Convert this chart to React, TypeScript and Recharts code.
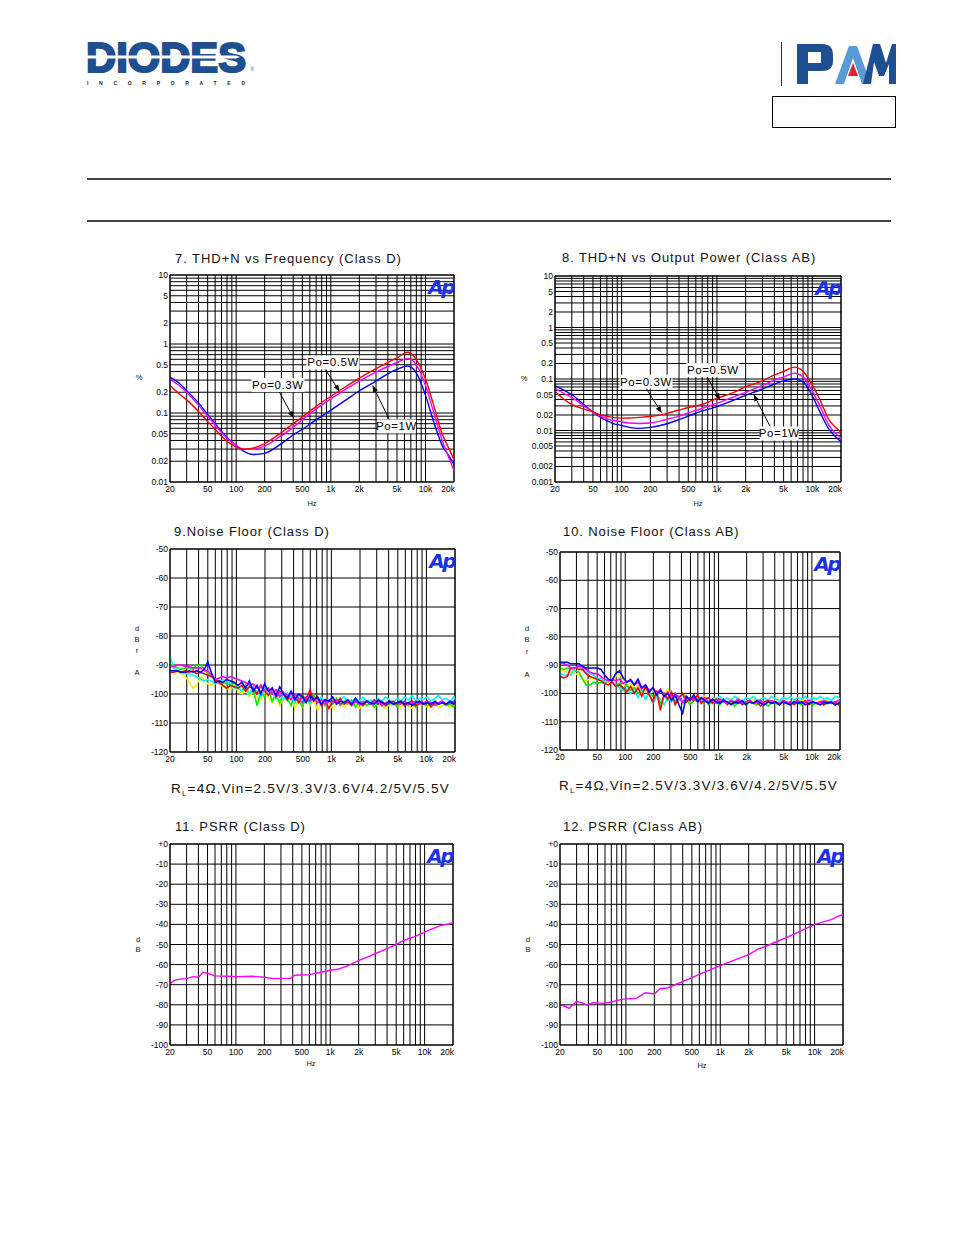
import React from 'react';
import { LineChart, Line, XAxis, YAxis, CartesianGrid, ReferenceLine, ReferenceDot } from 'recharts';

// ---- shared axes ----
const xGrid = [20, 30, 40, 50, 60, 70, 80, 90, 100, 200, 300, 400, 500, 600, 700, 800, 900, 1000, 2000, 3000, 4000, 5000, 6000, 7000, 8000, 9000, 10000, 20000];
const xLabels: Record<string, string> = { 20: '20', 50: '50', 100: '100', 200: '200', 500: '500', 1000: '1k', 2000: '2k', 5000: '5k', 10000: '10k', 20000: '20k' };

const thd7Grid = [0.01, 0.02, 0.03, 0.04, 0.05, 0.06, 0.07, 0.08, 0.09, 0.1, 0.2, 0.3, 0.4, 0.5, 0.6, 0.7, 0.8, 0.9, 1, 2, 3, 4, 5, 6, 7, 8, 9, 10];
const thd8Grid = [0.001, 0.002, 0.003, 0.004, 0.005, 0.006, 0.007, 0.008, 0.009, ...thd7Grid];
const thdLabels: Record<string, string> = { 10: '10', 5: '5', 2: '2', 1: '1', 0.5: '0.5', 0.2: '0.2', 0.1: '0.1', 0.05: '0.05', 0.02: '0.02', 0.01: '0.01', 0.005: '0.005', 0.002: '0.002', 0.001: '0.001' };
const noiseGrid = [-120, -110, -100, -90, -80, -70, -60, -50];
const psrrGrid = [-100, -90, -80, -70, -60, -50, -40, -30, -20, -10, 0];
const noiseMinor = Array.from({ length: 36 }, (_, i) => -120 + i * 2);
const psrrMinor = Array.from({ length: 51 }, (_, i) => -100 + i * 2);

// ---- 7 / 8 : THD+N (%) ----
const thdFreq = [20, 25, 30, 40, 50, 60, 70, 80, 100, 120, 150, 200, 300, 400, 500, 700, 1000, 1500, 2000, 3000, 4000, 5000, 6500, 8000, 10000, 12000, 15000, 18000, 20000];
const thd7Red = [0.25, 0.19, 0.155, 0.105, 0.075, 0.058, 0.046, 0.039, 0.032, 0.03, 0.031, 0.036, 0.052, 0.07, 0.088, 0.125, 0.175, 0.25, 0.32, 0.44, 0.54, 0.63, 0.76, 0.6, 0.31, 0.14, 0.05, 0.029, 0.021];
const thd7Magenta = [0.31, 0.25, 0.2, 0.13, 0.09, 0.067, 0.052, 0.043, 0.034, 0.03, 0.03, 0.033, 0.047, 0.062, 0.08, 0.115, 0.16, 0.23, 0.29, 0.39, 0.47, 0.54, 0.62, 0.5, 0.25, 0.11, 0.04, 0.021, 0.0145];
const thd7Blue = [0.33, 0.27, 0.21, 0.14, 0.095, 0.07, 0.054, 0.044, 0.034, 0.028, 0.025, 0.026, 0.036, 0.048, 0.058, 0.08, 0.11, 0.16, 0.21, 0.29, 0.37, 0.43, 0.48, 0.38, 0.18, 0.08, 0.034, 0.023, 0.018];

const thd8Red = [0.057, 0.04, 0.032, 0.026, 0.023, 0.02, 0.019, 0.018, 0.0174, 0.0175, 0.018, 0.0187, 0.0215, 0.025, 0.028, 0.032, 0.042, 0.055, 0.07, 0.092, 0.12, 0.14, 0.17, 0.14, 0.077, 0.04, 0.016, 0.011, 0.0092];
const thd8Magenta = [0.066, 0.052, 0.044, 0.03, 0.023, 0.019, 0.017, 0.0158, 0.0148, 0.014, 0.0137, 0.014, 0.0165, 0.019, 0.022, 0.027, 0.034, 0.045, 0.055, 0.075, 0.095, 0.11, 0.13, 0.11, 0.058, 0.03, 0.0125, 0.0085, 0.007];
const thd8Blue = [0.074, 0.06, 0.05, 0.032, 0.023, 0.018, 0.0155, 0.0138, 0.0125, 0.0115, 0.011, 0.0115, 0.0135, 0.0163, 0.019, 0.024, 0.029, 0.039, 0.048, 0.064, 0.08, 0.092, 0.1, 0.088, 0.047, 0.023, 0.0105, 0.0072, 0.006];

const notes7 = [
  { text: 'Po=0.5W', at: [1056, 0.54], from: [861, 0.44], to: [1242, 0.203] },
  { text: 'Po=0.3W', at: [276, 0.254], from: [285, 0.203], to: [405, 0.084] },
  { text: 'Po=1W', at: [4944, 0.064], from: [4204, 0.077], to: [2754, 0.254] },
];
const notes8 = [
  { text: 'Po=0.5W', at: [905, 0.149], from: [783, 0.111], to: [1081, 0.039] },
  { text: 'Po=0.3W', at: [180, 0.089], from: [176, 0.071], to: [264, 0.0217] },
  { text: 'Po=1W', at: [4500, 0.00875], from: [3620, 0.0119], to: [2418, 0.0505] },
];

// ---- 9 / 10 : noise floor (dBrA) ----
const noiseFreq = [20, 22, 24, 26, 29, 32, 35, 38, 42, 46, 50, 55, 60, 66, 72, 79, 87, 95, 104, 114, 125, 137, 150, 165, 181, 198, 217, 238, 261, 286, 313, 343, 376, 412, 452, 495, 543, 595, 652, 714, 783, 858, 940, 1030, 1130, 1240, 1360, 1490, 1630, 1790, 1960, 2150, 2350, 2580, 2830, 3100, 3400, 3720, 4080, 4470, 4900, 5370, 5890, 6450, 7070, 7750, 8490, 9310, 10200, 11200, 12300, 13400, 14700, 16100, 17700, 19400, 20000];

const n9Red = [-92.5, -92.5, -92, -92.5, -92, -92.5, -92, -93, -92.5, -93, -93.5, -94, -95, -96, -97, -98, -97, -97.5, -98, -97, -99, -97.5, -98, -100, -97, -99, -100.5, -98, -101, -99, -100, -102, -99.5, -101, -103, -100.5, -102, -98.5, -102.5, -101, -104, -102, -105, -102.5, -103, -101.5, -103.5, -102.5, -104, -102.5, -103, -104, -102.5, -103.5, -102, -103.5, -102.5, -104, -103, -102.5, -103.5, -102.5, -104, -103, -102.5, -104, -103, -103.5, -102.5, -104.5, -103, -103.5, -102.5, -103.5, -103, -103.5, -103];
const n9Green = [-90, -90.5, -91, -91.5, -91, -91, -91.5, -90, -90, -91.5, -93, -94, -95, -96.5, -96, -96.5, -97, -96, -98, -99, -97, -100, -98.5, -104, -99, -101, -98, -102.5, -100, -103, -99.5, -101.5, -104, -100, -102, -104.5, -101, -103, -100.5, -102.5, -101.5, -104, -102, -103.5, -101.5, -104, -102.5, -103.5, -102, -104.5, -103, -102.5, -104, -103, -104.5, -103, -102.5, -104, -103.5, -103, -104.5, -103, -103.5, -104, -103, -104.5, -103, -103.5, -104, -103, -104, -103.5, -103, -104, -103.5, -104.5, -103.5];
const n9Yellow = [-92, -92, -92.5, -93, -94, -96, -98, -97, -94, -95, -96.5, -97, -95.5, -96, -97.5, -98, -98.5, -97, -99, -100, -98, -101, -99, -101.5, -102, -99.5, -101, -103, -100, -104, -101, -102.5, -100.5, -105, -102, -103.5, -101.5, -104, -102, -105.5, -102.5, -104, -103, -105, -103.5, -102.5, -104.5, -103, -104, -103.5, -105, -103.5, -104, -103, -104.5, -103.5, -104, -105, -103.5, -104, -103.5, -104.5, -103.5, -104, -105, -103.5, -104, -103.5, -104.5, -104, -103.5, -104.5, -104, -103.5, -104.5, -104, -103.5];
const n9Cyan = [-87, -91, -92, -92.5, -93, -93, -93.5, -94, -95, -95.5, -95, -95.5, -96.5, -96, -95, -95.5, -96.5, -98, -97.5, -99, -98, -100, -97.5, -99.5, -101, -98.5, -100, -99, -101.5, -100, -102, -99.5, -101, -103, -100.5, -102, -101, -103.5, -101.5, -102.5, -101, -103, -102, -101.5, -103, -102, -101, -102.5, -103, -101.5, -102.5, -101, -102.5, -102, -103, -101.5, -102.5, -101, -102, -103, -101.5, -102.5, -101, -102, -100.5, -102.5, -101.5, -102, -101, -102.5, -101.5, -100.5, -102, -101.5, -102.5, -101, -102];
const n9Blue = [-92, -92, -92, -92.5, -92.5, -92, -92.5, -92, -92.5, -91.5, -89, -93, -96, -95.5, -96, -95, -95.5, -96, -97, -96, -98, -95.5, -99, -97, -100, -96.5, -99, -98, -100.5, -97.5, -100, -101.5, -99, -102, -100, -101, -103, -100.5, -102, -101, -103.5, -102, -102.5, -101, -103.5, -102.5, -103, -102, -103.5, -101.5, -103, -103.5, -102.5, -103, -103.5, -102, -103, -103.5, -102.5, -103.5, -103, -102.5, -103.5, -103, -104, -103, -102.5, -103.5, -103, -103.5, -102.5, -103.5, -103, -103.5, -102.5, -103.5, -102];
const n9Magenta = [-90.5, -90.5, -90, -90, -90.5, -90.5, -91, -91, -91, -92, -92, -93.5, -95, -94.5, -94, -94.5, -94, -94.5, -95, -95.5, -96, -97, -96.5, -98, -97.5, -99, -98, -100, -98.5, -101, -99.5, -100.5, -102, -100, -101.5, -103, -101, -102.5, -101.5, -103, -102, -103.5, -102.5, -103, -102, -103.5, -103, -102.5, -103.5, -102.5, -103.5, -103, -102.5, -103.5, -103, -102.5, -104, -103, -102.5, -103.5, -103, -103.5, -102.5, -103.5, -103, -102.5, -103.5, -103, -102.5, -103, -103.5, -103, -102.5, -103.5, -103, -102.5, -103];

const n10Red = [-94, -94.5, -94, -91, -91, -91.5, -91.5, -93, -94, -94.5, -95, -95.5, -96.5, -97, -96, -97.5, -97, -98, -99.5, -97.5, -100, -98, -101, -97.5, -100.5, -103, -99, -106, -100, -102, -99.5, -104, -101.5, -100, -103, -101.5, -102.5, -100.5, -103.5, -102, -101.5, -103.5, -102, -103, -102, -104, -102.5, -103.5, -102.5, -104, -103, -102.5, -103.5, -103, -104.5, -103, -102.5, -103.5, -103, -104, -102.5, -103.5, -103, -104, -103, -103.5, -102.5, -104, -103, -103.5, -103, -104, -103, -103.5, -103, -104, -103.5];
const n10Green = [-91, -91.5, -91, -91, -92, -92.5, -95, -97, -97, -96, -96.5, -96, -96.5, -95.5, -96, -97, -96.5, -98.5, -97, -99, -98, -100, -99, -102, -99.5, -101, -100.5, -103.5, -101, -102.5, -100.5, -103, -101, -103.5, -102, -104, -102.5, -101.5, -103.5, -102.5, -104, -102.5, -103, -104, -102.5, -103.5, -103, -104.5, -103, -103.5, -104, -103, -103.5, -104, -103, -103.5, -104.5, -103, -103.5, -104, -103, -103.5, -104, -103, -103.5, -104, -103, -103.5, -104, -103.5, -103, -104, -103.5, -103, -104, -103.5, -103];
const n10Yellow = [-92, -92, -92.5, -92.5, -93, -93.5, -95, -95.5, -95, -94.5, -95, -95.5, -95, -96, -95.5, -94, -93, -95, -97, -96.5, -98.5, -97, -100, -98, -99.5, -98.5, -101, -99, -100, -98.5, -101.5, -100, -102.5, -100.5, -101, -103, -101.5, -100.5, -102.5, -101, -103, -102, -101.5, -103, -102.5, -103.5, -102, -103, -101.5, -103.5, -102.5, -103, -102, -103.5, -102.5, -103, -102, -103.5, -102.5, -103, -102, -103, -103.5, -102.5, -103, -102, -103.5, -102.5, -103, -103.5, -102.5, -103, -102.5, -103.5, -103, -102.5, -103];
const n10Cyan = [-93, -93.5, -93.5, -93.5, -91, -90.5, -91, -92.5, -93, -93.5, -95, -94.5, -96, -95.5, -96, -97, -98, -99, -98.5, -100, -99, -101.5, -99, -102, -100, -103.5, -101, -102, -104, -101.5, -103, -101, -102.5, -100.5, -103, -101.5, -102, -101, -103, -102, -101.5, -103, -102, -101, -102.5, -101.5, -102.5, -101, -102, -103, -101.5, -102, -101, -102.5, -102, -101.5, -102.5, -101, -102, -102.5, -101.5, -102, -101, -102.5, -101.5, -102, -101, -102.5, -101.5, -102, -101, -102, -101.5, -102.5, -101, -101.5, -102];
const n10Blue = [-89, -89, -89, -89.5, -89.5, -89.5, -90.5, -91, -91, -91, -91, -91.5, -93.5, -95, -95.5, -93, -92, -94.5, -96, -95, -97, -95, -98, -97, -99.5, -98, -100.5, -99, -101, -100, -102.5, -100.5, -104, -107, -101, -102.5, -100.5, -103, -101.5, -102.5, -103.5, -102, -103, -103.5, -102.5, -103, -104, -103, -103.5, -102.5, -104, -103, -103.5, -102.5, -103.5, -104, -103, -103.5, -103, -104, -103, -103.5, -104, -103, -103.5, -103, -104, -103.5, -103, -103.5, -104, -103, -103.5, -103, -104, -103.5, -103];
const n10Magenta = [-89, -89.5, -90, -91, -91, -90.5, -90.5, -91.5, -92.5, -93, -93, -94, -95, -95.5, -95, -95.5, -95, -96.5, -96, -95.5, -97, -96, -98.5, -97, -99, -98, -100, -98.5, -101, -99.5, -102, -100, -101.5, -103, -101, -102.5, -101.5, -103, -102, -101.5, -103, -102.5, -103.5, -102, -103, -103.5, -102.5, -103, -102, -103.5, -103, -102.5, -103.5, -103, -102.5, -103.5, -103, -102.5, -103, -103.5, -102.5, -103, -103.5, -103, -102.5, -103.5, -103, -102.5, -103, -103.5, -103, -102.5, -103, -103.5, -103, -102.5, -103];

// ---- 11 / 12 : PSRR (dB) ----
const psrr11Freq = [20, 22, 25, 30, 35, 40, 45, 50, 60, 80, 100, 150, 200, 250, 380, 420, 600, 800, 1000, 1200, 1500, 2000, 2500, 3000, 4000, 5000, 6000, 8000, 10000, 12000, 15000, 18000, 20000];
const psrr11Db = [-69.5, -68, -67.2, -67, -66, -66.3, -63.8, -64.3, -65.6, -65.8, -66, -65.8, -66.3, -67, -66.8, -65.3, -65, -63.8, -62.8, -62.3, -60.8, -58, -56.2, -54.5, -52, -50, -48, -46, -43.8, -42.2, -40.5, -39.8, -39.2];
const psrr12Freq = [20, 22, 25, 30, 35, 38, 45, 60, 70, 90, 130, 160, 200, 230, 280, 500, 700, 1000, 1500, 2000, 2500, 3000, 4000, 5000, 7000, 10000, 15000, 18000, 20000];
const psrr12Db = [-80.3, -80.5, -81.8, -78.3, -79.2, -80, -79, -79.3, -78.6, -77.3, -76.7, -74, -74.6, -72, -71.5, -66.5, -63.5, -60.5, -57.3, -55, -52.3, -51, -48.5, -46.6, -43.5, -40, -37.6, -35.8, -35.2];

const thd7Rows = thdFreq.map((f, i) => ({ f, red: thd7Red[i], magenta: thd7Magenta[i], blue: thd7Blue[i] }));
const thd8Rows = thdFreq.map((f, i) => ({ f, red: thd8Red[i], magenta: thd8Magenta[i], blue: thd8Blue[i] }));
const n9Rows = noiseFreq.map((f, i) => ({ f, yellow: n9Yellow[i], green: n9Green[i], cyan: n9Cyan[i], red: n9Red[i], magenta: n9Magenta[i], blue: n9Blue[i] }));
const n10Rows = noiseFreq.map((f, i) => ({ f, yellow: n10Yellow[i], green: n10Green[i], cyan: n10Cyan[i], red: n10Red[i], magenta: n10Magenta[i], blue: n10Blue[i] }));
const p11Rows = psrr11Freq.map((f, i) => ({ f, v: psrr11Db[i] }));
const p12Rows = psrr12Freq.map((f, i) => ({ f, v: psrr12Db[i] }));

const thdSeries = [
  { key: 'blue', color: '#0000ff' },
  { key: 'magenta', color: '#ff00ff' },
  { key: 'red', color: '#ff0000' },
];
const noiseSeries = [
  { key: 'yellow', color: '#f2f200' },
  { key: 'green', color: '#00ee00' },
  { key: 'cyan', color: '#00ffff' },
  { key: 'red', color: '#ff0000' },
  { key: 'magenta', color: '#ff00ff' },
  { key: 'blue', color: '#0000ff' },
];
const psrrSeries = [{ key: 'v', color: '#ff00ff' }];

const FONT = '"Liberation Sans", Arial, sans-serif';
const TICK_FONT = '"Liberation Sans Narrow", "Liberation Sans", Arial, sans-serif';
const PAD_L = 40, PAD_T = 8, PAD_R = 10, PAD_B = 30;

function xTick(p: any) {
  const v = p.payload.value;
  const s = xLabels[v];
  if (!s) return <g />;
  const last = v === 20000;
  return (
    <text x={last ? p.x + 1 : p.x} y={p.y} dy={8} textAnchor={last ? 'end' : 'middle'} fontSize={8.5} fontFamily={TICK_FONT} fill="#000">
      {s}
    </text>
  );
}

const yTick = (label: (v: number) => string | undefined) => (p: any) => {
  const s = label(p.payload.value);
  if (!s) return <g />;
  return (
    <text x={p.x} y={p.y} dy={3} textAnchor="end" fontSize={8.5} fontFamily={TICK_FONT} fill="#000">
      {s}
    </text>
  );
};

const arrowShape = (p: any) => {
  const { x1, y1, x2, y2 } = p;
  const a = Math.atan2(y2 - y1, x2 - x1);
  const L = 7, W = 2.6;
  const bx = x2 - L * Math.cos(a), by = y2 - L * Math.sin(a);
  const pts = `${x2},${y2} ${bx - W * Math.sin(a)},${by + W * Math.cos(a)} ${bx + W * Math.sin(a)},${by - W * Math.cos(a)}`;
  return (
    <g>
      <line x1={x1} y1={y1} x2={bx} y2={by} stroke="#000" strokeWidth={1} />
      <polygon points={pts} fill="#000" />
    </g>
  );
};

const noteBox = (text: string) => (p: any) => {
  const w = text.length * 7 + 4;
  return (
    <g>
      <rect x={p.cx - w / 2} y={p.cy - 7} width={w} height={14} fill="#fff" />
      <text x={p.cx} y={p.cy} dy={4} textAnchor="middle" fontSize={11.5} fontFamily={FONT} letterSpacing={0.6} fill="#000">
        {text}
      </text>
    </g>
  );
};

type Plot = { l: number; t: number; r: number; b: number };

function ApChart(props: {
  plot: Plot;
  data: any[];
  series: { key: string; color: string }[];
  yLog?: boolean;
  yDomain: [number, number];
  yGrid: number[];
  yText: (v: number) => string | undefined;
  yMinor?: number[];
  curve?: 'linear' | 'monotone';
  lineWidth?: number;
  notes?: { text: string; at: number[]; from: number[]; to: number[] }[];
}) {
  const { plot, data, series, yLog, yDomain, yGrid, yText, yMinor, curve = 'linear', lineWidth = 1.2, notes = [] } = props;
  const w = plot.r - plot.l + PAD_L + PAD_R;
  const h = plot.b - plot.t + PAD_T + PAD_B;
  return (
    <div style={{ position: 'absolute', left: plot.l - PAD_L, top: plot.t - PAD_T, width: w, height: h }}>
      <LineChart width={w} height={h} data={data} margin={{ top: PAD_T, right: PAD_R, bottom: 0, left: 0 }}>
        <CartesianGrid stroke="#000" strokeWidth={1} />
        <XAxis dataKey="f" type="number" scale="log" domain={[20, 20000]} ticks={xGrid} interval={0} allowDataOverflow
          height={PAD_B} tickSize={0} tickMargin={2} tickLine={false} axisLine={{ stroke: '#000' }} tick={xTick} />
        <YAxis type="number" scale={yLog ? 'log' : 'linear'} domain={yDomain} ticks={yGrid} interval={0} allowDataOverflow
          width={PAD_L} tickSize={0} tickMargin={2} tickLine={false} axisLine={{ stroke: '#000' }} tick={yTick(yText)} />
        {yMinor && (
          <YAxis yAxisId="minor" type="number" domain={yDomain} ticks={yMinor} interval={0} allowDataOverflow mirror
            width={1} tickSize={3} tick={false} axisLine={false} tickLine={{ stroke: '#000' }} />
        )}
        <ReferenceLine x={20000} stroke="#000" />
        <ReferenceLine y={yDomain[1]} stroke="#000" />
        {series.map((s) => (
          <Line key={s.key} dataKey={s.key} stroke={s.color} strokeWidth={lineWidth} dot={false} type={curve} isAnimationActive={false} />
        ))}
        {notes.map((n, i) => (
          <ReferenceLine key={'a' + i} segment={[{ x: n.from[0], y: n.from[1] }, { x: n.to[0], y: n.to[1] }]} shape={arrowShape} ifOverflow="visible" />
        ))}
        {notes.map((n, i) => (
          <ReferenceDot key={'t' + i} x={n.at[0]} y={n.at[1]} r={1} shape={noteBox(n.text)} ifOverflow="visible" />
        ))}
      </LineChart>
      <div style={{ position: 'absolute', right: PAD_R + 1, top: PAD_T + 2, color: '#1a32e6', fontFamily: '"DejaVu Sans", sans-serif', fontWeight: 'bold', fontStyle: 'italic', fontSize: 20, letterSpacing: -2.5, lineHeight: 1 }}>
        Ap
      </div>
    </div>
  );
}

function Txt({ x, y, size = 13, spacing = 0, center = false, children }: any) {
  return (
    <div style={{ position: 'absolute', left: x, top: y, fontFamily: FONT, fontSize: size, letterSpacing: spacing, lineHeight: 1, whiteSpace: 'nowrap', color: '#111', transform: `translate(${center ? '-50%' : '0'}, -50%)` }}>
      {children}
    </div>
  );
}

function Header() {
  return (
    <svg style={{ position: 'absolute', left: 0, top: 0 }} width={954} height={230}>
      <text x={86} y={71.5} fontFamily={FONT} fontWeight="bold" fontSize={42} fill="#1d4f91" stroke="#1d4f91" strokeWidth={2.2}
        textLength={160} lengthAdjust="spacingAndGlyphs">DIODES</text>
      <path d="M84,55.5 H236 L240,57 L236,58.5 H84 Z" fill="#fff" />
      <text x={87} y={85} fontFamily={FONT} fontWeight="bold" fontSize={5} fill="#222" textLength={158} lengthAdjust="spacing">INCORPORATED</text>
      <text x={250.5} y={71} fontFamily={FONT} fontSize={5} fill="#1d4f91">®</text>
      <line x1={781.5} y1={42} x2={781.5} y2={86} stroke="#333" strokeWidth={1} />
      <path d="M797,44 H822 Q833,44 833,55 V61 Q833,71 822,71 H808 V84 H797 Z M808,52 H821 V63 H808 Z" fill="#1d4f91" fillRule="evenodd" />
      <path d="M835,84 L849,46 H857 L871,84 H862 L853,58 L844,84 Z" fill="#5b9bd5" />
      <path d="M848,76 L853,63 L858,76 Z" fill="#e0202a" />
      <path d="M863,84 L873,44 H880 L886,63 L892,44 H896 V84 H889 V64 L884,76 H879 L874,62 L871,84 Z" fill="#1d4f91" />
      <rect x={772.5} y={96.5} width={123} height={31} fill="none" stroke="#000" />
      <line x1={87} y1={179} x2={891} y2={179} stroke="#000" strokeWidth={1.5} />
      <line x1={87} y1={221} x2={891} y2={221} stroke="#000" strokeWidth={1.5} />
    </svg>
  );
}

const axisNames = [
  { t: '%', x: 139, y: 378 }, { t: '%', x: 524, y: 379 },
  { t: 'Hz', x: 312, y: 504 }, { t: 'Hz', x: 698, y: 504 },
  { t: 'd', x: 137, y: 629 }, { t: 'B', x: 137, y: 640 }, { t: 'r', x: 137, y: 651 }, { t: 'A', x: 137, y: 673 },
  { t: 'd', x: 527, y: 629 }, { t: 'B', x: 527, y: 640 }, { t: 'r', x: 527, y: 652 }, { t: 'A', x: 527, y: 675 },
  { t: 'd', x: 138, y: 940 }, { t: 'B', x: 138, y: 950 }, { t: 'd', x: 528, y: 940 }, { t: 'B', x: 528, y: 950 },
  { t: 'Hz', x: 311, y: 1064 }, { t: 'Hz', x: 702, y: 1066 },
];

const caption = (
  <>
    R<span style={{ fontSize: 8, verticalAlign: -3 }}>L</span>=4Ω,Vin=2.5V/3.3V/3.6V/4.2/5V/5.5V
  </>
);

export default function App() {
  const thdText = (v: number) => thdLabels[String(v)];
  const dbText = (v: number) => String(v);
  const psrrText = (v: number) => (v === 0 ? '+0' : String(v));
  return (
    <div style={{ position: 'absolute', left: 0, top: 0, width: 954, height: 1235, background: '#fff', overflow: 'hidden' }}>
      <Header />

      <Txt x={175} y={258} spacing={0.95}>7. THD+N vs Frequency (Class D)</Txt>
      <Txt x={562} y={257} spacing={0.9}>8. THD+N vs Output Power (Class AB)</Txt>
      <Txt x={174} y={531} spacing={0.9}>9.Noise Floor (Class D)</Txt>
      <Txt x={563} y={531} spacing={0.9}>10. Noise Floor (Class AB)</Txt>
      <Txt x={175} y={826} spacing={0.9}>11. PSRR (Class D)</Txt>
      <Txt x={563} y={826} spacing={0.9}>12. PSRR (Class AB)</Txt>
      <Txt x={171} y={790} size={13.5} spacing={1.2}>{caption}</Txt>
      <Txt x={559} y={787} size={13.5} spacing={1.2}>{caption}</Txt>
      {axisNames.map((a, i) => (
        <Txt key={i} x={a.x} y={a.y} size={7.5} center>{a.t}</Txt>
      ))}

      <ApChart plot={{ l: 170, t: 275, r: 454, b: 482 }} data={thd7Rows} series={thdSeries} yLog yDomain={[0.01, 10]} yGrid={thd7Grid}
        yText={thdText} curve="monotone" lineWidth={1.4} notes={notes7} />
      <ApChart plot={{ l: 555, t: 276, r: 841, b: 482 }} data={thd8Rows} series={thdSeries} yLog yDomain={[0.001, 10]} yGrid={thd8Grid}
        yText={thdText} curve="monotone" lineWidth={1.4} notes={notes8} />
      <ApChart plot={{ l: 170, t: 549, r: 455, b: 752 }} data={n9Rows} series={noiseSeries} yDomain={[-120, -50]} yGrid={noiseGrid}
        yText={dbText} yMinor={noiseMinor} lineWidth={1.6} />
      <ApChart plot={{ l: 560, t: 552, r: 840, b: 750 }} data={n10Rows} series={noiseSeries} yDomain={[-120, -50]} yGrid={noiseGrid}
        yText={dbText} yMinor={noiseMinor} lineWidth={1.6} />
      <ApChart plot={{ l: 170, t: 844, r: 453, b: 1045 }} data={p11Rows} series={psrrSeries} yDomain={[-100, 0]} yGrid={psrrGrid}
        yText={psrrText} yMinor={psrrMinor} lineWidth={1.4} />
      <ApChart plot={{ l: 560, t: 844, r: 843, b: 1045 }} data={p12Rows} series={psrrSeries} yDomain={[-100, 0]} yGrid={psrrGrid}
        yText={psrrText} yMinor={psrrMinor} lineWidth={1.4} />
    </div>
  );
}
